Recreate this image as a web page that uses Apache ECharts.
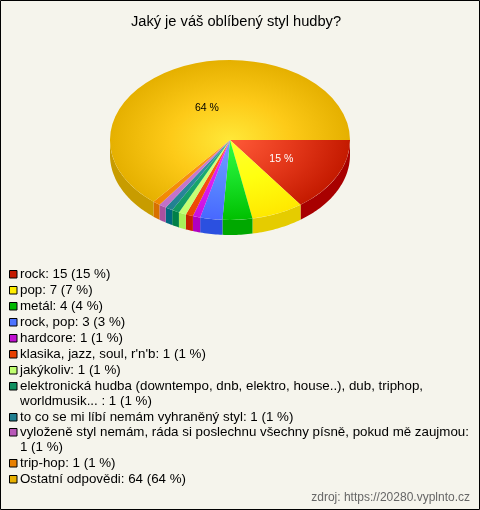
<!DOCTYPE html>
<html><head><meta charset="utf-8">
<style>html,body{margin:0;padding:0;background:#f5f4ec}#c{width:480px;height:510px}</style>
<script src="https://cdn.jsdelivr.net/npm/echarts@6/dist/echarts.min.js"></script>
</head><body><div id="c"></div>
<script>
var categories=["rock","pop","metál","rock, pop","hardcore","klasika, jazz, soul, r'n'b","jakýkoliv","elektronická hudba (downtempo, dnb, elektro, house..), dub, triphop,\nworldmusik... ","to co se mi líbí nemám vyhraněný styl","vyloženě styl nemám, ráda si poslechnu všechny písně, pokud mě zaujmou\n","trip-hop","Ostatní odpovědi"];
var values=[15,7,4,3,1,1,1,1,1,1,1,64];
var swatchColors=['#c41a00','#ffee00','#00b800','#4d73ff','#c010d0','#e84000','#c0ff70','#109060','#207f90','#b858b8','#e88000','#e8b000'];
var innerColors=['#ff5a38','#ffff30','#30ff40','#70a0ff','#f030ff','#ff6020','#d8ff88','#28b880','#3898a8','#d080d0','#ff9a20','#ffe838'];
var midColors=['#e63a1c','#ffff10','#18e028','#5a88ff','#dc20f0','#f85010','#ccff78','#18a870','#2c8ca0','#c878cc','#f89010','#fdca18'];
var outerColors=['#c41a00','#ffe800','#00c000','#4868ff','#c810e0','#e84800','#c0ff70','#109860','#208090','#c070c8','#f08800','#e5b000'];
var sideColors=['#a80000','#e5cc00','#00a800','#2b50e0','#b000c0','#c82000','#a8f058','#008048','#006880','#a850a0','#d87000','#c89c00'];
var title="Jaký je váš oblíbený styl hudby?";
var credit="zdroj: https://20280.vyplnto.cz";

var total=values.reduce(function(a,b){return a+b;},0);
var CX=230,CY=140,RX=120,RY=80,DEPTH=15,K=RY/RX;
var FONT='"Liberation Sans", Arial, sans-serif';
var starts=[];values.reduce(function(a,v,i){starts[i]=a;return a+v;},0);
function ang(v){return v/total*Math.PI*2;}

function renderItem(params,api){
  var i=api.value(0),a0=ang(api.value(1)),a1=ang(api.value(1)+api.value(2));
  var children=[];
  var s=Math.max(a0,0),e=Math.min(a1,Math.PI);
  if(e>s){
    var top=[],bot=[],n=Math.max(2,Math.ceil((e-s)/0.02));
    for(var j=0;j<=n;j++){
      var t=s+(e-s)*j/n,x=CX+RX*Math.cos(t),y=CY+RY*Math.sin(t);
      top.push([x,y]);bot.unshift([x,y+DEPTH]);
    }
    children.push({type:'polygon',shape:{points:top.concat(bot)},style:{fill:sideColors[i]},silent:true});
  }
  children.push({type:'sector',originX:CX,originY:CY,scaleY:K,
    shape:{cx:CX,cy:CY,r:RX,r0:0,startAngle:a0,endAngle:a1,clockwise:true},
    style:{fill:new echarts.graphic.RadialGradient(CX,CY,RX,[{offset:0,color:innerColors[i]},{offset:0.5,color:midColors[i]},{offset:1,color:outerColors[i]}],true),stroke:null},silent:true});
  return {type:'group',children:children};
}
function renderLabel(params,api){
  var v=api.value(2),pct=Math.round(v/total*100);
  if(pct<10)return null;
  var m=ang(api.value(1)+v/2),r=RX*0.47;
  return {type:'text',x:CX+r*Math.cos(m)+1,y:CY+r*K*Math.sin(m)+2.5,
    style:{text:pct+' %',fill:pct>50?'#000':'#fff',font:'10.5px '+FONT,textAlign:'center',textVerticalAlign:'middle'},silent:true};
}
var seriesData=values.map(function(v,i){return [i,starts[i],v];});

var graphics=[];
var y=274.4,ITEM=15.9,LINE=15;
categories.forEach(function(c,i){
  var txt=(c+': '+values[i]+' ('+Math.round(values[i]/total*100)+' %)').replace('\n: ',':\n');
  graphics.push({type:'rect',x:9.5,y:Math.round(y-4)+0.5,shape:{width:7.5,height:7.5},style:{fill:swatchColors[i],stroke:'#000',lineWidth:1},silent:true});
  var lines=txt.split('\n');
  lines.forEach(function(l,k){
    graphics.push({type:'text',x:20,y:Math.round(y+k*LINE),style:{text:l,fill:'#000',font:'13.33px '+FONT,textVerticalAlign:'middle'},silent:true});
  });
  y+=(lines.length-1)*LINE+ITEM;
});
graphics.push({type:'rect',x:0.5,y:0.5,shape:{width:479,height:509},style:{fill:'none',stroke:'#000',lineWidth:1},silent:true});

var chart=echarts.init(document.getElementById('c'),null,{renderer:'canvas'});
chart.setOption({
  animation:false,backgroundColor:'#f5f4ec',
  title:[{text:title,left:231,top:9,textAlign:'center',textStyle:{fontSize:14.67,fontWeight:'normal',color:'#000',fontFamily:FONT}},
         {text:credit,right:5,top:487,textStyle:{fontSize:12,fontWeight:'normal',color:'#666',fontFamily:FONT}}],
  graphic:graphics,
  series:[
    {type:'custom',coordinateSystem:'none',renderItem:renderItem,data:seriesData,z:2},
    {type:'custom',coordinateSystem:'none',renderItem:renderLabel,data:seriesData,z:3}
  ]
});
</script></body></html>
